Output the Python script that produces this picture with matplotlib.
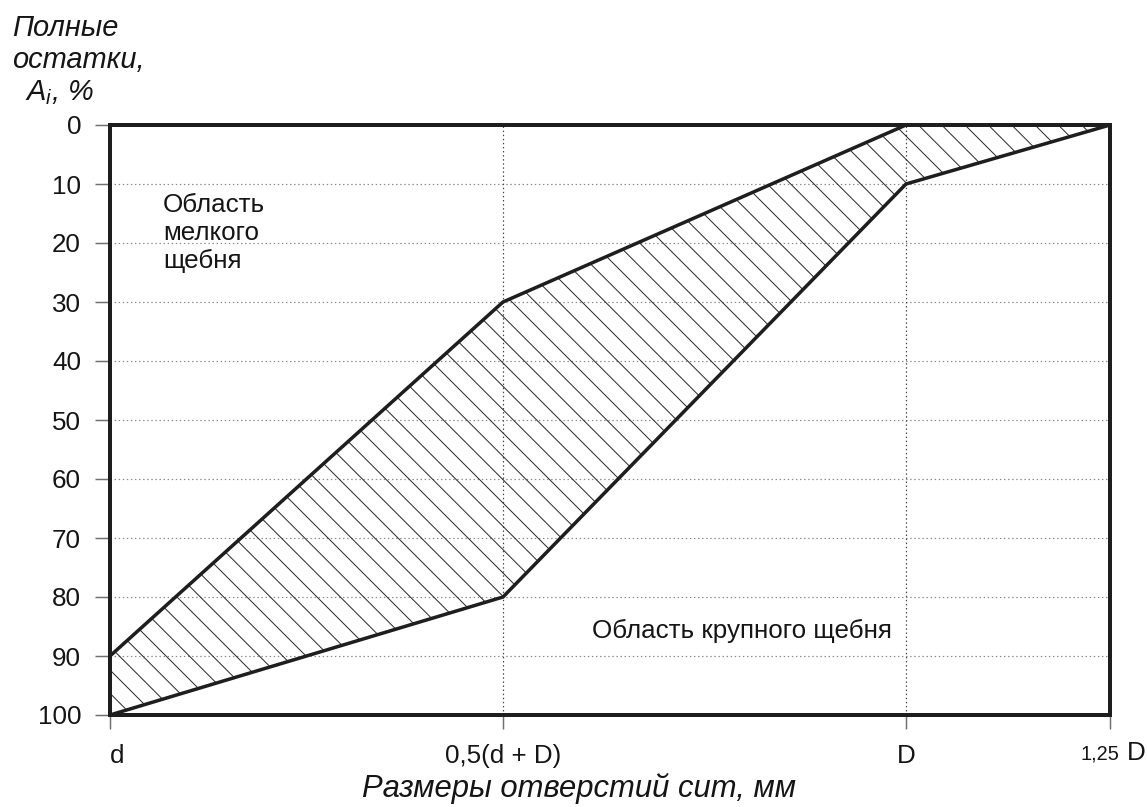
import matplotlib
matplotlib.use("Agg")
import matplotlib.pyplot as plt
from matplotlib.ticker import FixedLocator

# ---- data ----
sieve_labels = ["d", "0,5(d + D)", "D", "1,25 D"]
sieve_x = [0.0, 0.393, 0.796, 1.0]          # relative positions of sieve sizes on the axis
fine_limit = [90, 30, 0, 0]                  # upper boundary (fine crushed stone)
coarse_limit = [100, 80, 10, 0]              # lower boundary (coarse crushed stone)
y_ticks = list(range(0, 101, 10))

DPI = 140
W, H = 1147, 807
px = 72.0 / DPI  # points per pixel

plt.rcParams['font.family'] = ['Liberation Sans', 'DejaVu Sans']
plt.rcParams['mathtext.fontset'] = 'custom'
plt.rcParams['mathtext.it'] = 'Liberation Sans:italic'
plt.rcParams['mathtext.rm'] = 'Liberation Sans'
plt.rcParams['hatch.linewidth'] = 1.0 * px

fig = plt.figure(figsize=(W / DPI, H / DPI), dpi=DPI)
ax = fig.add_axes([110 / W, 1 - 715 / H, 1000 / W, 590 / H])

dark = '#1e1e1e'
txt = '#151515'

ax.fill_between(sieve_x, fine_limit, coarse_limit, facecolor='none',
                edgecolor='#2a2a2a', hatch='\\\\', linewidth=0, zorder=2)
ax.plot(sieve_x, fine_limit, color=dark, lw=3.5 * px, zorder=3, solid_joinstyle='miter')
ax.plot(sieve_x, coarse_limit, color=dark, lw=3.5 * px, zorder=3, solid_joinstyle='miter')

ax.set_xlim(sieve_x[0], sieve_x[-1])
ax.set_ylim(100, 0)

# grid
for yv in y_ticks[1:-1]:
    ax.axhline(yv, color='#8a8a8a', lw=1.2 * px, ls=(0, (1.2, 2.2)), zorder=1)
for xv in sieve_x[1:3]:
    ax.axvline(xv, color='#444444', lw=1.2 * px, ls=(0, (1.2, 2.2)), zorder=1)

for s in ax.spines.values():
    s.set_linewidth(4 * px)
    s.set_color(dark)
    s.set_zorder(4)

ax.yaxis.set_major_locator(FixedLocator(y_ticks))
ax.set_yticklabels([str(v) for v in y_ticks])
ax.xaxis.set_major_locator(FixedLocator(sieve_x))
ax.set_xticklabels(sieve_labels[:3] + [""])
ax.tick_params(axis='y', direction='out', length=15 * px, width=1.5 * px,
               color='#707070', pad=14 * px, labelsize=26 * px, labelcolor=txt)
ax.tick_params(axis='x', direction='out', length=14 * px, width=1.5 * px,
               color='#707070', pad=15 * px, labelsize=26 * px, labelcolor=txt)
# the "d" label sits slightly right of its tick in the reference
ax.get_xticklabels()[0].set_horizontalalignment('left')

# "1,25 D" label with smaller numeric part
num, letter = sieve_labels[3].split(" ")
ax.annotate(num, xy=(sieve_x[3], 0), xycoords=('data', 'axes fraction'),
            xytext=(9 * px, -44 * px), textcoords='offset points',
            ha='right', va='baseline', fontsize=20 * px, color=txt)
ax.annotate(letter, xy=(sieve_x[3], 0), xycoords=('data', 'axes fraction'),
            xytext=(17 * px, -45 * px), textcoords='offset points',
            ha='left', va='baseline', fontsize=26 * px, color=txt)

# region labels
for line, base in zip(["Область", "мелкого", "щебня"], [212, 240, 268]):
    fig.text(163 / W, 1 - base / H, line, ha='left', va='baseline',
             fontsize=26 * px, color=txt)
fig.text(592 / W, 1 - 638 / H, "Область крупного щебня", ha='left', va='baseline',
         fontsize=26 * px, color=txt)

# axis titles
fig.text(12 / W, 1 - 36 / H, "Полные", ha='left', va='baseline',
         fontsize=29 * px, style='italic', color=txt)
fig.text(12 / W, 1 - 68 / H, "остатки,", ha='left', va='baseline',
         fontsize=29 * px, style='italic', color=txt)
fig.text(25 / W, 1 - 100 / H, r"$A_i$, %", ha='left', va='baseline',
         fontsize=29 * px, style='italic', color=txt)
fig.text(579 / W, 1 - 797 / H, "Размеры отверстий сит, мм", ha='center', va='baseline',
         fontsize=31 * px, style='italic', color=txt)

fig.savefig("out.png", dpi=DPI)
